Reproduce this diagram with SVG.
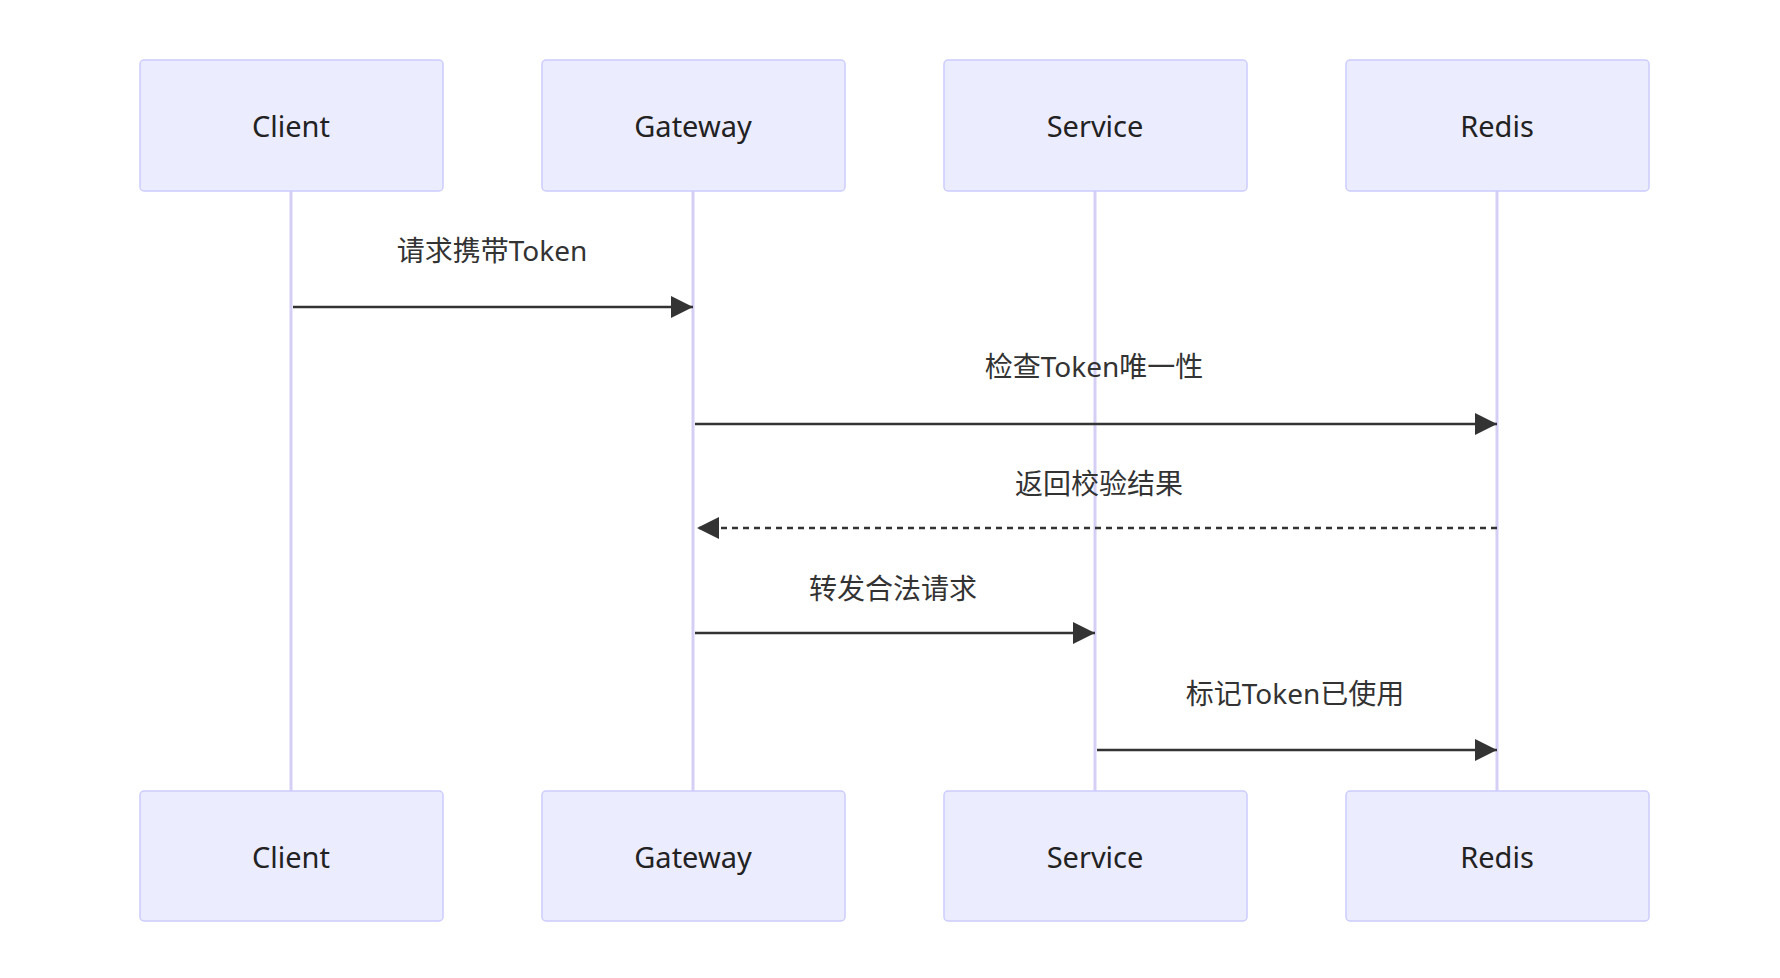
<svg xmlns="http://www.w3.org/2000/svg" width="1780" height="978" viewBox="0 0 1780 978">
<style>
.box{fill:#ECECFF;stroke:#CCCCFF;stroke-width:1.5}
.life{stroke:#D5CFF5;stroke-width:3}
.t{font-family:"Noto Sans","Noto Sans CJK SC",sans-serif;font-size:29px;fill:#222;text-anchor:middle;dominant-baseline:central}
.m{font-family:"Noto Sans","Noto Sans CJK SC",sans-serif;font-size:28px;fill:#333;text-anchor:middle;dominant-baseline:central}
.msg{stroke:#333;stroke-width:2.5;fill:none}
</style>
<defs><marker id="ah" viewBox="0 0 12 12" refX="11" refY="6" markerWidth="10" markerHeight="10" markerUnits="userSpaceOnUse" orient="auto"><path d="M0,0 L12,6 L0,12 z" fill="#333"/></marker>
<marker id="a" viewBox="0 0 20 20" refX="20" refY="10" markerWidth="22" markerHeight="22" markerUnits="userSpaceOnUse" orient="auto"><path d="M0,0 L20,10 L0,20 z" fill="#333"/></marker></defs>
<rect width="1780" height="978" fill="#fff"/>
<g id="lifelines">
<line class="life" x1="291" y1="191" x2="291" y2="791"/>
<line class="life" x1="693" y1="191" x2="693" y2="791"/>
<line class="life" x1="1095" y1="191" x2="1095" y2="791"/>
<line class="life" x1="1497" y1="191" x2="1497" y2="791"/>
</g>
<g id="Client"><rect class="box" x="140" y="60" width="303" height="131" rx="4"/><text class="t" x="291" y="125">Client</text></g>
<g id="Gateway"><rect class="box" x="542" y="60" width="303" height="131" rx="4"/><text class="t" x="693" y="125">Gateway</text></g>
<g id="Service"><rect class="box" x="944" y="60" width="303" height="131" rx="4"/><text class="t" x="1095" y="125">Service</text></g>
<g id="Redis"><rect class="box" x="1346" y="60" width="303" height="131" rx="4"/><text class="t" x="1497" y="125">Redis</text></g>
<g id="Client_b"><rect class="box" x="140" y="791" width="303" height="130" rx="4"/><text class="t" x="291" y="856">Client</text></g>
<g id="Gateway_b"><rect class="box" x="542" y="791" width="303" height="130" rx="4"/><text class="t" x="693" y="856">Gateway</text></g>
<g id="Service_b"><rect class="box" x="944" y="791" width="303" height="130" rx="4"/><text class="t" x="1095" y="856">Service</text></g>
<g id="Redis_b"><rect class="box" x="1346" y="791" width="303" height="130" rx="4"/><text class="t" x="1497" y="856">Redis</text></g>
<g id="connectors">
<line class="msg" x1="293" y1="307" x2="693" y2="307" marker-end="url(#a)"/>
<text class="m" x="492" y="250">请求携带Token</text>
<line class="msg" x1="695" y1="424" x2="1497" y2="424" marker-end="url(#a)"/>
<text class="m" x="1094" y="366">检查Token唯一性</text>
<line class="msg" x1="1497" y1="528" x2="697" y2="528" stroke-dasharray="6,5" marker-end="url(#a)"/>
<text class="m" x="1099" y="483">返回校验结果</text>
<line class="msg" x1="695" y1="633" x2="1095" y2="633" marker-end="url(#a)"/>
<text class="m" x="893" y="588">转发合法请求</text>
<line class="msg" x1="1097" y1="750" x2="1497" y2="750" marker-end="url(#a)"/>
<text class="m" x="1295" y="693">标记Token已使用</text>
</g>
</svg>
